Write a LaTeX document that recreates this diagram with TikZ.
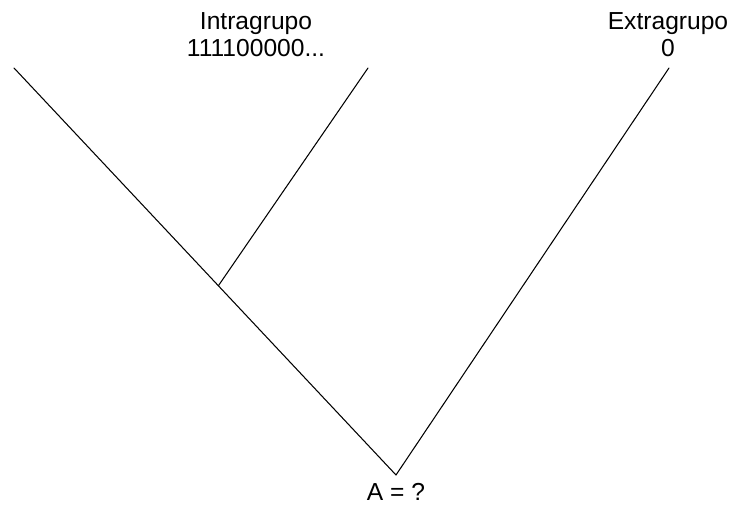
\documentclass[tikz,border=0pt]{standalone}
\usepackage{fontspec}
\setmainfont{Liberation Sans}
\usepackage{tikz}
\usetikzlibrary{positioning,calc}
\tikzset{
    cladebranch/.style={line width=0.9pt, line cap=round},
    cladelabel/.style={align=center, font=\fontsize{21}{23}\selectfont, inner sep=0pt}
}
\begin{document}
\begin{tikzpicture}[x=0.03cm, y=-0.03cm]
        \useasboundingbox (0,0) rectangle (749,507);
        \coordinate (leafA) at (14,68);
        \coordinate (leafB) at (368,68);
        \coordinate (leafC) at (669,68);
        \coordinate (root) at (396,475);
        \coordinate (inner) at ($(leafA)!0.535!(root)$);

        \node[cladelabel] (ingroup) at (256,35) {Intragrupo\\111100000...};
        \node[cladelabel] (outgroup) at (668,35) {Extragrupo\\0};
        \node[cladelabel, below=7pt of root] (ancestor) {A = ?};

        \draw[cladebranch] (leafA) -- (root);
        \draw[cladebranch] (inner) -- (leafB);
        \draw[cladebranch] (root) -- (leafC);
    \end{tikzpicture}
\end{document}
